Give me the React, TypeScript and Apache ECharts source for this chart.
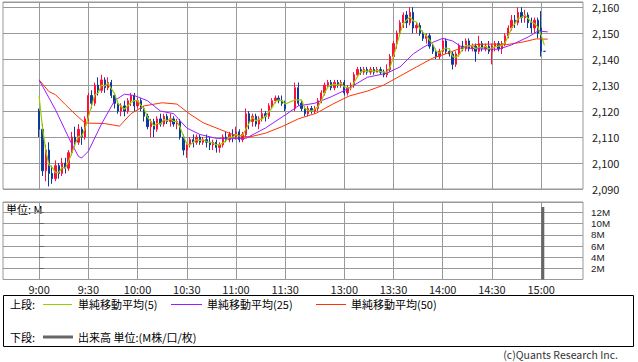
import React, { useEffect, useRef } from 'react';
import * as echarts from 'echarts';

// Time index: morning = minutes since 9:00, afternoon = 156 + minutes since 12:30
const timeTickValues = [0, 30, 60, 90, 120, 150, 186, 216, 246, 276, 306];
const timeTickLabels = ['9:00', '9:30', '10:00', '10:30', '11:00', '11:30', '13:00', '13:30', '14:00', '14:30', '15:00'];

// [t, open, close, low, high] (2-minute candles)
const candles: number[][] = [
  [0, 2120, 2113, 2110, 2121], [2, 2113, 2097, 2095, 2115], [4, 2097, 2105, 2093, 2107], [6, 2105, 2096, 2091, 2108],
  [8, 2096, 2094, 2092, 2099], [10, 2094, 2099, 2093, 2101], [12, 2099, 2096, 2094, 2100], [14, 2096, 2100, 2095, 2102],
  [16, 2100, 2098, 2096, 2102], [18, 2098, 2104, 2097, 2105], [20, 2104, 2110, 2103, 2112], [22, 2110, 2108, 2106, 2114],
  [24, 2108, 2113, 2107, 2115], [26, 2113, 2110, 2107, 2114], [28, 2110, 2117, 2109, 2118], [30, 2117, 2126, 2116, 2127],
  [32, 2126, 2123, 2121, 2128], [34, 2123, 2130, 2122, 2131], [36, 2130, 2128, 2126, 2133], [38, 2128, 2132, 2127, 2134],
  [40, 2132, 2129, 2127, 2133], [42, 2129, 2131, 2128, 2133], [44, 2131, 2126, 2125, 2132], [46, 2126, 2123, 2121, 2127],
  [48, 2123, 2120, 2119, 2124], [50, 2120, 2122, 2118, 2123], [52, 2122, 2120, 2118, 2124], [54, 2120, 2124, 2119, 2125],
  [56, 2124, 2126, 2122, 2127], [58, 2126, 2122, 2120, 2127], [60, 2122, 2124, 2121, 2125], [62, 2124, 2121, 2120, 2125],
  [64, 2121, 2118, 2116, 2122], [66, 2118, 2114, 2113, 2119], [68, 2114, 2116, 2110, 2117], [70, 2116, 2113, 2110, 2117],
  [72, 2113, 2117, 2112, 2118], [74, 2117, 2115, 2114, 2119], [76, 2115, 2118, 2114, 2119], [78, 2118, 2116, 2115, 2119],
  [80, 2116, 2117, 2114, 2119], [82, 2117, 2115, 2114, 2118], [84, 2115, 2116, 2113, 2117], [86, 2116, 2110, 2109, 2117],
  [88, 2110, 2105, 2103, 2111], [90, 2105, 2107, 2102, 2108], [92, 2107, 2109, 2106, 2110], [94, 2109, 2108, 2106, 2111],
  [96, 2108, 2110, 2107, 2111], [98, 2110, 2108, 2107, 2111], [100, 2108, 2109, 2107, 2110], [102, 2109, 2108, 2106, 2111],
  [104, 2108, 2107, 2105, 2110], [106, 2107, 2108, 2105, 2109], [108, 2108, 2106, 2104, 2109], [110, 2106, 2107, 2104, 2108],
  [112, 2107, 2110, 2106, 2111], [114, 2110, 2109, 2108, 2112], [116, 2109, 2111, 2108, 2112], [118, 2111, 2110, 2108, 2113],
  [120, 2110, 2112, 2109, 2114], [122, 2112, 2109, 2108, 2113], [124, 2109, 2111, 2108, 2112], [126, 2111, 2119, 2110, 2121],
  [128, 2119, 2116, 2113, 2120], [130, 2116, 2118, 2114, 2119], [132, 2118, 2115, 2114, 2119], [134, 2115, 2117, 2113, 2118],
  [136, 2117, 2119, 2116, 2121], [138, 2119, 2118, 2116, 2120], [140, 2118, 2122, 2117, 2123], [142, 2122, 2124, 2121, 2125],
  [144, 2124, 2125, 2123, 2126], [146, 2125, 2124, 2123, 2126], [148, 2124, 2123, 2122, 2126], [150, 2123, 2121, 2120, 2124],
  [156, 2121, 2129, 2120, 2131], [158, 2129, 2123, 2122, 2131], [160, 2123, 2121, 2120, 2124], [162, 2121, 2119, 2118, 2122],
  [164, 2119, 2121, 2118, 2122], [166, 2121, 2120, 2119, 2122], [168, 2120, 2121, 2119, 2122], [170, 2121, 2124, 2120, 2125],
  [172, 2124, 2127, 2123, 2128], [174, 2127, 2130, 2126, 2131], [176, 2130, 2131, 2129, 2132], [178, 2131, 2129, 2128, 2132],
  [180, 2129, 2131, 2128, 2132], [182, 2131, 2130, 2129, 2132], [184, 2130, 2131, 2129, 2132], [186, 2131, 2127, 2126, 2132],
  [188, 2127, 2129, 2126, 2130], [190, 2129, 2130, 2128, 2131], [192, 2130, 2134, 2129, 2135], [194, 2134, 2136, 2133, 2137],
  [196, 2136, 2135, 2134, 2137], [198, 2135, 2136, 2134, 2137], [200, 2136, 2135, 2134, 2137], [202, 2135, 2136, 2134, 2137],
  [204, 2136, 2135, 2134, 2137], [206, 2135, 2136, 2135, 2137], [208, 2136, 2135, 2134, 2137], [210, 2135, 2134, 2133, 2136],
  [212, 2134, 2136, 2133, 2138], [214, 2136, 2141, 2135, 2142], [216, 2141, 2146, 2140, 2147], [218, 2146, 2150, 2144, 2151],
  [220, 2150, 2154, 2149, 2155], [222, 2154, 2157, 2152, 2158], [224, 2157, 2154, 2152, 2158.5], [226, 2154, 2158, 2153, 2160],
  [228, 2158, 2152, 2150, 2160], [230, 2152, 2153, 2150, 2154], [232, 2153, 2150, 2149, 2154], [234, 2150, 2148, 2147, 2151],
  [236, 2148, 2149, 2146, 2150], [238, 2149, 2145, 2144, 2150], [240, 2145, 2143, 2142, 2146], [242, 2143, 2141, 2140, 2144],
  [244, 2141, 2143, 2140, 2144], [246, 2143, 2147, 2142, 2148], [248, 2147, 2143, 2142, 2148], [250, 2143, 2142, 2141, 2144],
  [252, 2142, 2138, 2136, 2143], [254, 2138, 2142, 2137, 2143], [256, 2142, 2145, 2141, 2146], [258, 2145, 2144, 2143, 2147],
  [260, 2144, 2147, 2143, 2148], [262, 2147, 2144, 2143, 2148], [264, 2144, 2145, 2143, 2146], [266, 2145, 2143, 2139, 2146],
  [268, 2143, 2146, 2142, 2149], [270, 2146, 2144, 2143, 2147], [272, 2144, 2145, 2143, 2146], [274, 2145, 2143, 2142, 2147],
  [276, 2143, 2145, 2138, 2146], [278, 2145, 2146, 2143, 2147], [280, 2146, 2144, 2143, 2147], [282, 2144, 2146, 2142, 2147],
  [284, 2146, 2149, 2145, 2150], [286, 2149, 2152, 2148, 2153], [288, 2152, 2155, 2151, 2157], [290, 2155, 2154, 2152, 2157],
  [292, 2154, 2158, 2153, 2160], [294, 2158, 2156, 2154, 2160], [296, 2156, 2157, 2154, 2159], [298, 2157, 2154, 2152, 2158],
  [300, 2154, 2152, 2150, 2156], [302, 2152, 2155, 2150, 2156], [304, 2155, 2150, 2148, 2156], [306, 2152, 2143, 2141, 2158.5],
  [308, 2143, 2143, 2143, 2143],
];

// previous-session closes used to seed the short moving average
const prevCloses = [2132, 2132];

// moving averages: [t, value]
const ma25Points: number[][] = [
  [0, 2132], [10, 2120.5], [19, 2108.5], [24, 2102.5], [26, 2102], [30, 2104.5], [38, 2115], [46, 2124], [52, 2126.5],
  [58, 2126], [66, 2124], [74, 2120], [82, 2119], [90, 2113.5], [98, 2111], [108, 2109.5], [126, 2109.5], [138, 2113.5],
  [150, 2118.5], [158, 2122], [168, 2123], [178, 2125.5], [188, 2128.5], [200, 2133], [212, 2134.6], [220, 2137],
  [228, 2142], [234, 2144.5], [240, 2146.5], [246, 2148], [252, 2147], [258, 2144.5], [266, 2144], [280, 2143.8],
  [288, 2145.5], [298, 2148.5], [304, 2150.8], [310, 2150.5],
];
const ma50Points: number[][] = [
  [0, 2132], [6, 2127.5], [10, 2126.3], [16, 2122.5], [22, 2118.8], [28, 2115.4], [40, 2115.2], [49, 2114.2], [56, 2119],
  [64, 2122], [75, 2123.2], [84, 2122.7], [92, 2118.8], [100, 2115.5], [110, 2113], [118, 2111], [128, 2110], [138, 2111.5],
  [148, 2114], [158, 2117], [169, 2119.2], [179, 2122.7], [189, 2125.8], [200, 2127.7], [210, 2130], [220, 2133.5],
  [230, 2137], [240, 2140.4], [250, 2142.5], [260, 2145], [268, 2145.7], [276, 2145.8], [285, 2145.6], [295, 2146.6],
  [303, 2147.8], [310, 2147.7],
];

// volume in millions: [t, value]
const volumePoints: number[][] = [[307, 13.0]];

const FONT = "'Noto Sans CJK JP', 'Noto Sans', sans-serif";
const LATIN = "'Liberation Sans', Arial, sans-serif";

function sma(values: number[], period: number, seed: number[]): number[] {
  const all = seed.concat(values);
  const out: number[] = [];
  for (let i = seed.length; i < all.length; i++) {
    let s = 0;
    for (let k = i - period + 1; k <= i; k++) s += all[k];
    out.push(s / period);
  }
  return out;
}

export default function App() {
  const ref = useRef<HTMLDivElement>(null);
  useEffect(() => {
    document.body.style.margin = '0';
    if (!ref.current) return;
    const chart = echarts.init(ref.current, undefined, { renderer: 'svg' });
    const closes = candles.map((c) => c[2]);
    const ma5 = sma(closes, 3, prevCloses);
    const ma5Data = candles.map((c, i) => [c[0], Math.round(ma5[i] * 10) / 10]);
    const labelMap: Record<number, string> = {};
    timeTickValues.forEach((v, i) => (labelMap[v] = timeTickLabels[i]));

    const gridLine = { show: true, lineStyle: { color: '#999', width: 1 } };
    const xCommon = {
      type: 'value' as const,
      min: -22,
      max: 331.5,
      axisLine: { show: false },
      splitLine: gridLine,
    };

    const legendText = (x: number, y: number, text: string) => ({
      type: 'text',
      x,
      y,
      style: { text, fill: '#000', font: `11px ${FONT}`, textVerticalAlign: 'middle', verticalAlign: 'middle' },
    });
    const legendLine = (x1: number, x2: number, y: number, color: string, w: number) => ({
      type: 'line',
      shape: { x1, y1: y, x2, y2: y },
      style: { stroke: color, lineWidth: w },
    });

    chart.setOption({
      animation: false,
      backgroundColor: '#fff',
      grid: [
        { left: 3, right: 55, top: 2, height: 187, show: true, borderColor: '#999', borderWidth: 1, outerBoundsMode: 'none', containLabel: false },
        { left: 3, right: 55, top: 202, height: 77.5, show: true, borderColor: '#999', borderWidth: 1, outerBoundsMode: 'none', containLabel: false },
      ],
      xAxis: [
        {
          ...xCommon,
          gridIndex: 0,
          axisTick: { show: false, customValues: timeTickValues },
          axisLabel: { show: false, customValues: timeTickValues },
        },
        {
          ...xCommon,
          gridIndex: 1,
          axisTick: { show: false, customValues: timeTickValues },
          axisLabel: {
            show: true,
            customValues: timeTickValues,
            formatter: (v: number) => labelMap[v] ?? '',
            color: '#222',
            fontSize: 11,
            fontFamily: FONT,
            margin: 4,
          },
        },
      ],
      yAxis: [
        {
          type: 'value',
          gridIndex: 0,
          position: 'right',
          min: 2090,
          max: 2162,
          interval: 10,
          axisLine: { show: false },
          axisTick: { show: false },
          splitLine: gridLine,
          axisLabel: {
            showMaxLabel: false,
            color: '#222',
            fontSize: 11,
            lineHeight: 11,
            fontFamily: FONT,
            margin: 9,
            formatter: (v: number) => v.toLocaleString('en-US'),
          },
        },
        {
          type: 'value',
          gridIndex: 1,
          position: 'right',
          min: 0,
          max: 13.9,
          interval: 2,
          axisLine: { show: false },
          axisTick: { show: true, length: 5, lineStyle: { color: '#666' } },
          splitLine: gridLine,
          axisLabel: {
            showMaxLabel: false,
            showMinLabel: false,
            color: '#222',
            fontSize: 9.8,
            fontFamily: LATIN,
            margin: 8,
            lineHeight: 10,
            formatter: (v: number) => (v === 0 ? '' : `${v}M`),
          },
        },
      ],
      series: [
        {
          type: 'candlestick',
          xAxisIndex: 0,
          yAxisIndex: 0,
          data: candles,
          encode: { x: 0, y: [1, 2, 3, 4] },
          barWidth: 1.8,
          itemStyle: {
            color: '#ff0f3c',
            color0: '#0a3a9c',
            borderColor: '#ff0f3c',
            borderColor0: '#0a3a9c',
            borderColorDoji: '#0a3a9c',
            borderWidth: 1,
          },
          z: 3,
        },
        {
          type: 'line',
          xAxisIndex: 0,
          yAxisIndex: 0,
          data: ma50Points,
          showSymbol: false,
          lineStyle: { color: '#ff3300', width: 1 },
          z: 4,
        },
        {
          type: 'line',
          xAxisIndex: 0,
          yAxisIndex: 0,
          data: ma25Points,
          showSymbol: false,
          lineStyle: { color: '#9b1dff', width: 1 },
          z: 5,
        },
        {
          type: 'line',
          xAxisIndex: 0,
          yAxisIndex: 0,
          data: ma5Data,
          showSymbol: false,
          lineStyle: { color: '#9acd00', width: 1.2 },
          z: 6,
        },
        {
          type: 'bar',
          xAxisIndex: 1,
          yAxisIndex: 1,
          data: volumePoints,
          barWidth: 3,
          itemStyle: { color: '#666' },
        },
      ],
      graphic: [
        {
          type: 'text',
          x: 6,
          y: 203,
          style: { text: '単位: M', fill: '#000', font: `11px ${FONT}` },
        },
        {
          type: 'rect',
          shape: { x: 3.5, y: 295.5, width: 630, height: 51 },
          style: { fill: 'none', stroke: '#000', lineWidth: 1 },
        },
        legendText(10, 304, '上段:'),
        legendLine(43, 72, 304.5, '#9acd00', 1),
        legendText(78, 304, '単純移動平均(5)'),
        legendLine(171, 202, 304.5, '#9b1dff', 1),
        legendText(207, 304, '単純移動平均(25)'),
        legendLine(316, 346, 304.5, '#ff3300', 1),
        legendText(351, 304, '単純移動平均(50)'),
        legendText(10, 337, '下段:'),
        legendLine(43, 73, 337, '#666', 3),
        legendText(78, 337, '出来高 単位:(M株/口/枚)'),
        {
          type: 'text',
          x: 618,
          y: 354.5,
          style: {
            text: '(c)Quants Research Inc.',
            fill: '#333',
            font: `10.5px ${FONT}`,
            lineHeight: 11,
            textAlign: 'right',
            align: 'right',
            verticalAlign: 'middle',
            textVerticalAlign: 'middle',
          },
        },
      ],
    });
    return () => chart.dispose();
  }, []);
  return <div ref={ref} style={{ width: 638, height: 362 }} />;
}
